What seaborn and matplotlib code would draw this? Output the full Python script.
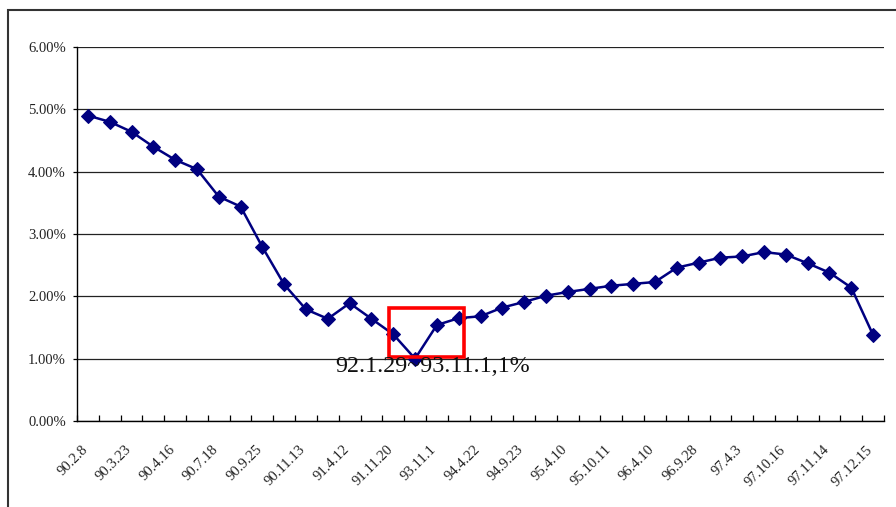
import numpy as np
import pandas as pd
import matplotlib
matplotlib.use("Agg")
import matplotlib.pyplot as plt
from matplotlib.patches import Rectangle
from matplotlib.ticker import FixedLocator, PercentFormatter
from matplotlib.transforms import ScaledTranslation
import seaborn as sns

# rate (%) per observation, 37 points
rates = [4.90, 4.80, 4.64, 4.40, 4.19, 4.04, 3.60, 3.44, 2.79, 2.19,
         1.79, 1.64, 1.89, 1.64, 1.39, 1.00, 1.54, 1.65, 1.68, 1.82,
         1.91, 2.01, 2.07, 2.12, 2.17, 2.20, 2.23, 2.46, 2.54, 2.62,
         2.64, 2.71, 2.67, 2.53, 2.38, 2.14, 1.38]

# tick labels shown on every second point
tick_labels = ['90.2.8', '90.3.23', '90.4.16', '90.7.18', '90.9.25', '90.11.13',
               '91.4.12', '91.11.20', '93.11.1', '94.4.22', '94.9.23', '95.4.10',
               '95.10.11', '96.4.10', '96.9.28', '97.4.3', '97.10.16', '97.11.14',
               '97.12.15']

note_text = '92.1.29~93.11.1,1%'

df = pd.DataFrame({'idx': np.arange(len(rates)), 'rate': rates})

sns.set_theme(style='white')
plt.rcParams['font.family'] = ['Liberation Serif', 'DejaVu Serif']

fig = plt.figure(figsize=(8.96, 5.07), dpi=100)
ax = fig.add_axes([77 / 896, 1 - 421 / 507, (884 - 77) / 896, (421 - 47) / 507])

sns.lineplot(data=df, x='idx', y='rate', ax=ax, color='#000080', linewidth=1.8,
             marker='D', markersize=6.8, markeredgecolor='#000080', zorder=3)

ax.set_xlim(-0.5, len(rates) - 0.5)
ax.set_ylim(0, 6)
ax.set_yticks(np.arange(0, 7, 1))
ax.yaxis.set_major_formatter(PercentFormatter(decimals=2))
ax.yaxis.grid(True, color='#222222', linewidth=0.9)
ax.set_axisbelow(True)

ax.set_xticks(np.arange(0, len(rates), 2))
ax.set_xticklabels(tick_labels, rotation=45, ha='right', rotation_mode='anchor')
ax.xaxis.set_minor_locator(FixedLocator(np.arange(-0.5, len(rates), 1)))
ax.tick_params(axis='x', which='major', length=0, pad=16, labelsize=10.5, colors='#222222')
ax.tick_params(axis='x', which='minor', length=4, width=0.9, direction='in',
               bottom=True, color='black')
ax.tick_params(axis='y', which='major', length=3, width=0.9, direction='out',
               left=True, labelsize=10.5, color='black', labelcolor='#222222', pad=5)

shift = ScaledTranslation(-7 / 100, 0, fig.dpi_scale_trans)
for lbl in ax.get_xticklabels():
    lbl.set_transform(lbl.get_transform() + shift)

for side in ['top', 'right']:
    ax.spines[side].set_visible(False)
for side in ['left', 'bottom']:
    ax.spines[side].set_color('black')
    ax.spines[side].set_linewidth(1.0)

ax.set_xlabel('')
ax.set_ylabel('')

# red highlight box around the trough
ax.add_patch(Rectangle((13.8, 1.03), 3.45, 0.78, fill=False, edgecolor='#ff0000',
                       linewidth=2.6, zorder=4))
ax.text(15.8, 0.87, note_text, ha='center', va='center', fontsize=17.3,
        color='#111111', zorder=5)

# outer frame, cut off at right and bottom
fig.patches.append(Rectangle((8 / 896, -0.2), 1.2, 1.2 - 10 / 507,
                             transform=fig.transFigure, fill=False,
                             edgecolor='#333333', linewidth=1.5))

fig.savefig('out.png', dpi=100)
